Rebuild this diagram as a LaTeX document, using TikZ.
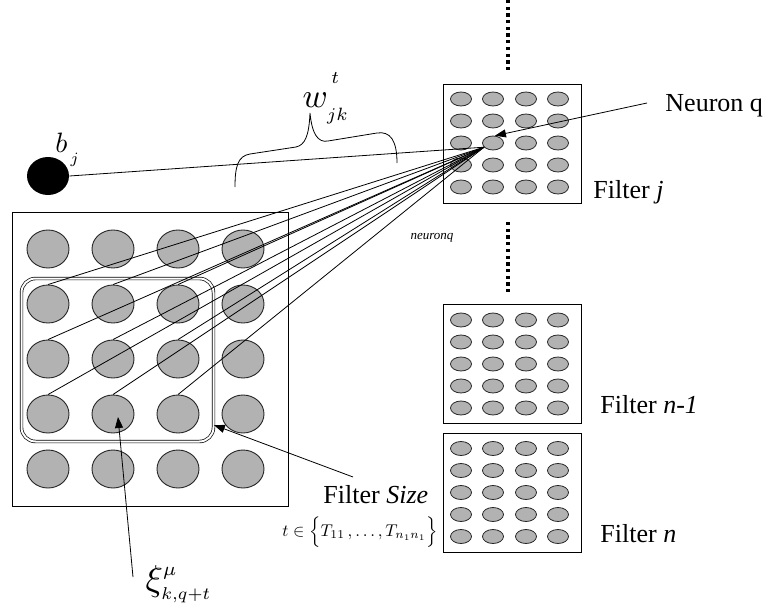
\documentclass[tikz,border=0pt]{standalone}
\usepackage[no-math]{fontspec}
\setmainfont{Liberation Serif}
\usetikzlibrary{shapes.geometric,arrows.meta}
\definecolor{cgray}{RGB}{178,178,178}
\newcommand{\smallidx}[3]{\raisebox{#1}{\scalebox{#2}{$\scriptstyle #3$}}}
\begin{document}
\begin{tikzpicture}[x=1pt,y=-1pt,line width=0.9pt,
  bigc/.style={ellipse,draw=black!85,line width=0.9pt,fill=cgray,minimum width=42pt,minimum height=38pt,inner sep=0},
  smc/.style={ellipse,draw=black!85,line width=0.8pt,fill=cgray,minimum width=21pt,minimum height=14pt,inner sep=0},
  lbl/.style={inner sep=0,font=\fontsize{26}{26}\selectfont},
  mlbl/.style={inner sep=0,font=\normalsize,transform shape},
  arr/.style={-{Triangle[length=11pt,width=8pt]}},
  dotline/.style={line width=3.3pt,dash pattern=on 3.3pt off 3.4pt},
  boxnode/.style={draw,line width=0.9pt,inner sep=0}]
\useasboundingbox (0,0) rectangle (769,610);

% dotted separators
\coordinate (d1a) at (508,0);
\coordinate (d1b) at (508,72);
\coordinate (d2a) at (508,222);
\coordinate (d2b) at (508,295);
\draw[dotline] (d1a) -- (d1b);
\draw[dotline] (d2a) -- (d2b);

% boxes
\node[boxnode,minimum width=276pt,minimum height=294pt] (input) at (150,359) {};
\node[boxnode,minimum width=138pt,minimum height=119pt] (FJ) at (512,143.5) {};
\node[boxnode,minimum width=138pt,minimum height=119pt] (FM) at (512,363.5) {};
\node[boxnode,minimum width=138pt,minimum height=119pt] (FN) at (512,492.5) {};

% input neurons
\foreach \r/\y in {0/249,1/304,2/359,3/414,4/469}
  \foreach \c/\x in {0/48,1/113,2/178,3/243}
    \node[bigc] (B\r\c) at (\x,\y) {};

% filter neurons
\foreach \f/\ty in {J/99,M/320,N/448.5}
  \foreach \r in {0,...,4}
    \foreach \c/\x in {0/461,1/493,2/526,3/558}
      \node[smc] (\f\r\c) at (\x,\ty+22*\r) {};

% receptive field window
\node[draw,double,double distance=2pt,line width=0.7pt,rounded corners=14pt,
      minimum width=192pt,minimum height=163pt,inner sep=0] (win) at (117.5,360) {};

% bias
\node[ellipse,fill=black,minimum width=42pt,minimum height=38pt,inner sep=0] (bj) at (48,176) {};

% connections
\draw[line width=0.8pt] (bj.east) -- (J21.205);
\foreach \r in {1,2,3}
  \foreach \c in {0,1,2}
    \draw[line width=0.8pt] (J21.205) -- (B\r\c.north);

% brace
\draw[line width=0.8pt] (235,187) .. controls (235,166) and (238,156) .. (250,154) -- (296,147)
  .. controls (305,145) and (309,136) .. (310,113)
  .. controls (312,134) and (318,143) .. (328,141) -- (377,133)
  .. controls (390,131) and (397,140) .. (397,163);

% labels
\node[mlbl,scale=2.8,anchor=base west] (bl) at (54,152) {$b_{\smallidx{-2.5pt}{0.8}{\,j}}$};
\node[mlbl,scale=3.4,anchor=base west] (wl) at (301,107) {$w^{\smallidx{3.3pt}{0.75}{\,t}}_{\smallidx{-1.6pt}{0.75}{jk}}$};
\node[mlbl,scale=3.6,anchor=base west] (xl) at (144,590) {$\xi^{\smallidx{0.5pt}{0.75}{\mu}}_{\smallidx{-0.3pt}{0.68}{k,q+t}}$};

\node[lbl,anchor=base west] (nq) at (665,112) {Neuron q};
\node[lbl,anchor=base west] (lj) at (593,198) {Filter \textit{j}};
\node[lbl,anchor=base west] (lm) at (600,413) {Filter \textit{n-1}};
\node[lbl,anchor=base west] (ln) at (600,542) {Filter \textit{n}};
\node[lbl,anchor=base west] (fs) at (323,503) {Filter \textit{Size}};
\node[mlbl,scale=1.7] (tset) at (360,532)
  {$t\in\Bigl\{T_{11}\,,\ldots,T_{n_1n_1}\Bigr\}$};
\node[inner sep=0,font=\fontsize{13}{13}\selectfont\itshape] (nql) at (432,238) {neuronq};

% arrows
\draw[arr,line width=0.8pt] ([xshift=-18pt,yshift=9pt]nq.base west) -- (J21.75);
\draw[arr,line width=0.8pt] ([xshift=30pt,yshift=26pt]fs.base west) -- (win.-34);
\draw[arr,line width=0.8pt] ([xshift=-11pt,yshift=13pt]xl.base west) -- ([xshift=5pt,yshift=-3pt]B31.center);
\end{tikzpicture}
\end{document}
